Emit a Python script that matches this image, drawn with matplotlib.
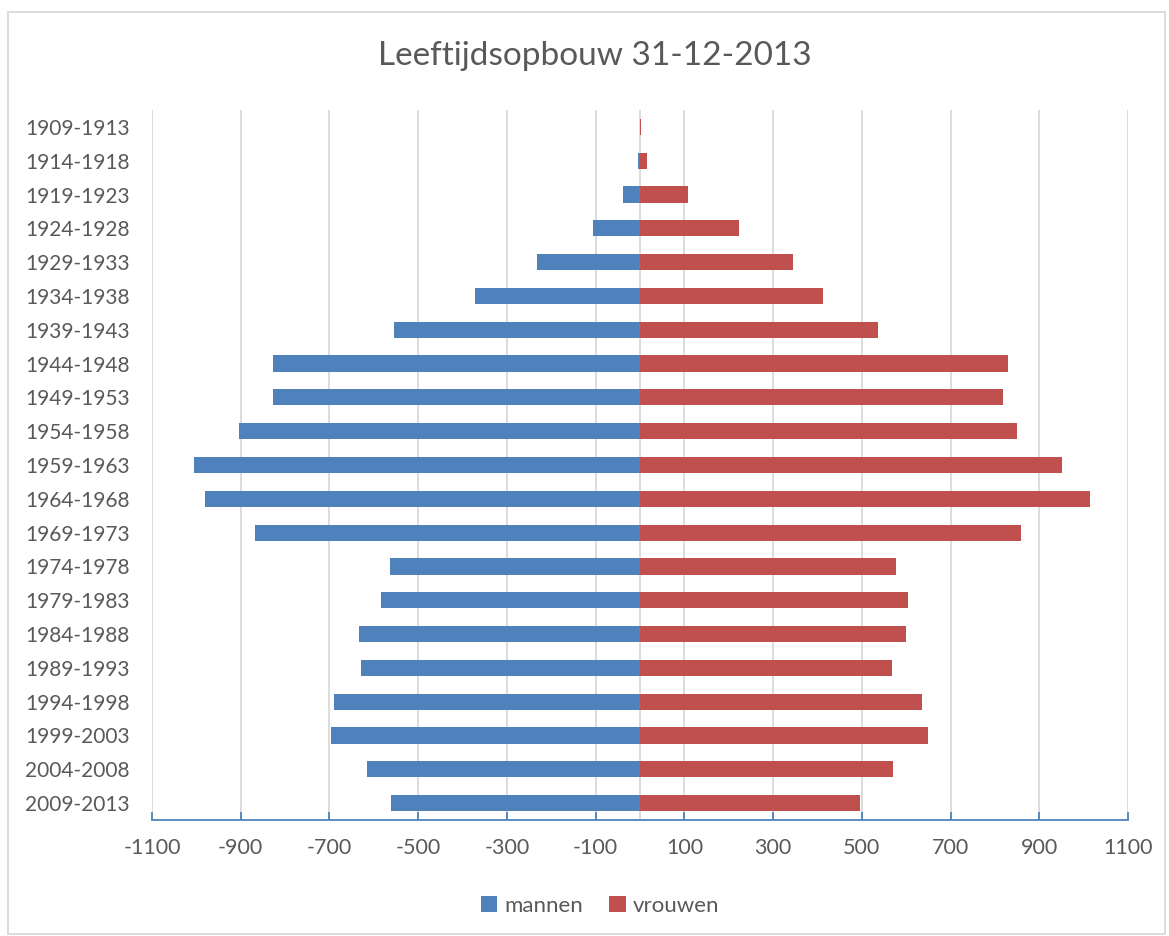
import numpy as np
import matplotlib.pyplot as plt
from matplotlib.patches import Rectangle

plt.rcParams['font.family'] = ['Lato', 'DejaVu Sans']

# leeftijdsklassen (geboortejaren), oudste bovenaan
cohorten = ['1909-1913', '1914-1918', '1919-1923', '1924-1928', '1929-1933',
            '1934-1938', '1939-1943', '1944-1948', '1949-1953', '1954-1958',
            '1959-1963', '1964-1968', '1969-1973', '1974-1978', '1979-1983',
            '1984-1988', '1989-1993', '1994-1998', '1999-2003', '2004-2008',
            '2009-2013']
mannen = [-1, -5, -38, -106, -232, -372, -555, -827, -827, -904,
          -1005, -981, -868, -564, -584, -633, -629, -690, -697, -615, -561]
vrouwen = [2, 16, 108, 223, 345, 413, 537, 830, 818, 850,
           951, 1014, 859, 577, 604, 600, 568, 636, 649, 570, 496]
xticks = list(range(-1100, 1101, 200))

blauw = '#4F81BD'
rood = '#C0504D'
grijs = '#595959'

fig = plt.figure(figsize=(11.69, 9.36), dpi=100)
ax = fig.add_axes([152 / 1169, 1 - 820 / 936, 976 / 1169, 710 / 936])

y = np.arange(len(cohorten))
ax.barh(y, mannen, height=0.48, color=blauw, label='mannen', zorder=3)
ax.barh(y, vrouwen, height=0.48, color=rood, label='vrouwen', zorder=3)

ax.set_xlim(-1100, 1100)
ax.set_ylim(len(cohorten) - 0.5, -0.5)
ax.set_xticks(xticks)
ax.set_xticklabels([str(t) for t in xticks], fontsize=15.5, color=grijs)
ax.set_yticks(y)
ax.set_yticklabels(cohorten, fontsize=15, color=grijs)

ax.grid(axis='x', color='#D9D9D9', linewidth=1.3, zorder=0)
ax.axvline(0, color='#D9D9D9', linewidth=1.3, zorder=1)
for s in ['top', 'right', 'left']:
    ax.spines[s].set_visible(False)
ax.spines['bottom'].set_color(blauw)
ax.spines['bottom'].set_linewidth(1.3)
ax.tick_params(axis='x', direction='in', length=6, color=blauw, width=1.3, pad=13)
ax.tick_params(axis='y', length=0, pad=16)

fig.text(595 / 1169, 1 - 56 / 936, 'Leeftijdsopbouw 31-12-2013',
         ha='center', va='center', fontsize=24, color=grijs)

leg = fig.legend(loc='center', bbox_to_anchor=(600 / 1169, 1 - 906 / 936),
                 ncol=2, frameon=False, fontsize=16, handlelength=0.75,
                 handleheight=0.75, columnspacing=1.2, handletextpad=0.3)
for t in leg.get_texts():
    t.set_color(grijs)

# rand om de grafiek
fig.patches.append(Rectangle((8 / 1169, 1 - 934 / 936), 1157 / 1169, 922 / 936,
                             transform=fig.transFigure, fill=False,
                             edgecolor='#D9D9D9', linewidth=1.3))

fig.savefig('out.png', dpi=100)
